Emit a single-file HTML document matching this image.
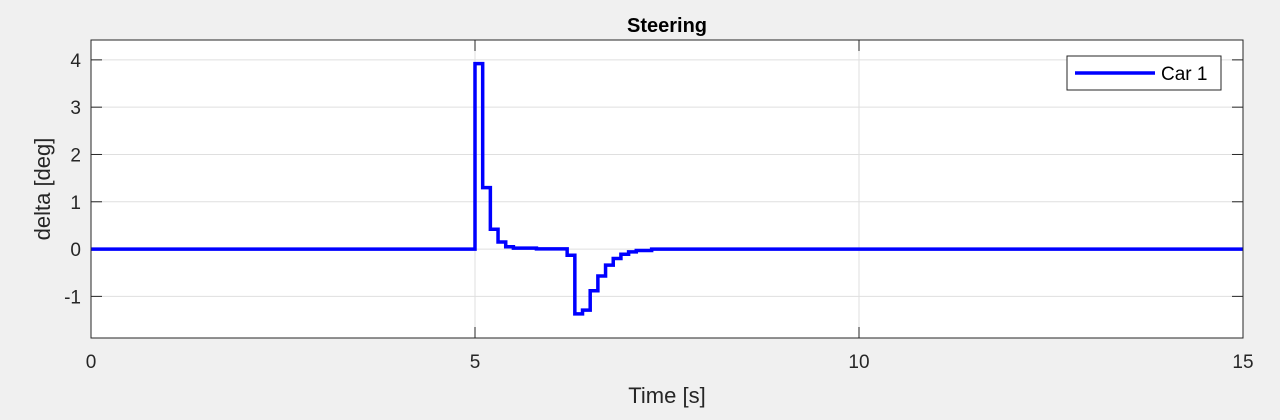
<!DOCTYPE html>
<html><head><meta charset="utf-8"><style>
body{margin:0;background:#f0f0f0;}
svg{display:block;font-family:"Liberation Sans",Arial,sans-serif;}
</style></head><body>
<svg id="chart" width="1280" height="420">
<rect x="0" y="0" width="1280" height="420" fill="#f0f0f0"/>
<rect x="91" y="40" width="1152" height="298" fill="#fff"/>
<g id="grid"></g>
<g id="ticks"></g>
<path id="series" fill="none" stroke="#0000ff" stroke-width="3.5" stroke-linejoin="miter"/>
<rect x="91" y="40" width="1152" height="298" fill="none" stroke="#262626" stroke-width="1"/>
<text x="667" y="32" text-anchor="middle" font-size="20" font-weight="bold" fill="#000">Steering</text>
<text x="667" y="403" text-anchor="middle" font-size="22" fill="#262626">Time [s]</text>
<text transform="translate(50,189) rotate(-90)" text-anchor="middle" font-size="22" fill="#262626">delta [deg]</text>
<g>
<rect x="1067" y="56" width="154" height="34" fill="#fff" stroke="#262626" stroke-width="1"/>
<line x1="1075" y1="73" x2="1155" y2="73" stroke="#0000ff" stroke-width="3.5"/>
<text x="1161" y="80" font-size="19" fill="#000">Car 1</text>
</g>
</svg>
<script>
const xTicks=[0,5,10,15];
const yTicks=[-1,0,1,2,3,4];
const times=[0,5.0,5.1,5.2,5.3,5.4,5.5,5.8,6.2,6.3,6.4,6.5,6.6,6.7,6.8,6.9,7.0,7.1,7.3,15];
const values=[0,3.92,1.3,0.42,0.15,0.05,0.02,0.005,-0.13,-1.37,-1.29,-0.88,-0.57,-0.34,-0.2,-0.11,-0.06,-0.03,0,0];
const X0=91,X1=1243,Y0=40,Y1=338,xmin=0,xmax=15,ymin=-1.88,ymax=4.42;
const sx=v=>X0+(v-xmin)/(xmax-xmin)*(X1-X0);
const sy=v=>Y1-(v-ymin)/(ymax-ymin)*(Y1-Y0);
const NS="http://www.w3.org/2000/svg";
const grid=document.getElementById('grid'),ticks=document.getElementById('ticks');
function mk(tag,attrs,parent){const e=document.createElementNS(NS,tag);for(const k in attrs)e.setAttribute(k,attrs[k]);parent.appendChild(e);return e;}
xTicks.forEach(t=>{
 const x=sx(t);
 const g=mk('line',{x1:x,x2:x,y1:Y0,y2:Y1,stroke:'#dfdfdf','stroke-width':1},grid);
 
 
 const m1=mk('line',{x1:x,x2:x,y1:Y1,y2:Y1-11,stroke:'#262626','stroke-width':1},ticks);
 
 
 const m2=mk('line',{x1:x,x2:x,y1:Y0,y2:Y0+11,stroke:'#262626','stroke-width':1},ticks);
 
 
 const l=mk('text',{x:x,y:Y1+30,'text-anchor':'middle','font-size':19,fill:'#262626'},ticks);
 l.textContent=t;
 
 
});
yTicks.forEach(t=>{
 const y=sy(t);
 const g=mk('line',{x1:X0,x2:X1,y1:y,y2:y,stroke:'#dfdfdf','stroke-width':1},grid);
 
 
 const m1=mk('line',{x1:X0,x2:X0+11,y1:y,y2:y,stroke:'#262626','stroke-width':1},ticks);
 
 
 const m2=mk('line',{x1:X1,x2:X1-11,y1:y,y2:y,stroke:'#262626','stroke-width':1},ticks);
 
 
 const l=mk('text',{x:X0-10,y:y+7,'text-anchor':'end','font-size':19,fill:'#262626'},ticks);
 l.textContent=t;
 
 
});
let d='M'+sx(times[0])+','+sy(values[0]);
for(let i=1;i<times.length;i++){d+=' H'+sx(times[i])+' V'+sy(values[i]);}
document.getElementById('series').setAttribute('d',d);
</script>
</body></html>
